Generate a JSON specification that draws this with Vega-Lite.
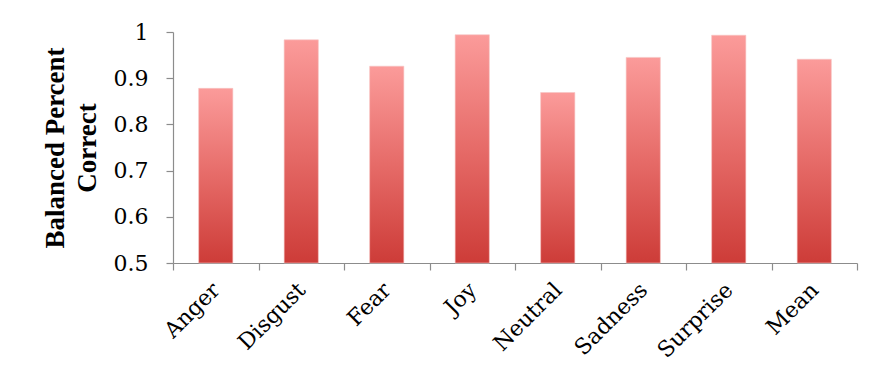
{
  "$schema": "https://vega.github.io/schema/vega-lite/v6.json",
  "autosize": {"type": "none"},
  "width": 684,
  "height": 231,
  "padding": {"left": 173, "top": 32, "right": 26, "bottom": 113},
  "background": "white",
  "data": {
    "values": [
      {"emotion": "Anger", "score": 0.878},
      {"emotion": "Disgust", "score": 0.983},
      {"emotion": "Fear", "score": 0.926},
      {"emotion": "Joy", "score": 0.994},
      {"emotion": "Neutral", "score": 0.869},
      {"emotion": "Sadness", "score": 0.945},
      {"emotion": "Surprise", "score": 0.993},
      {"emotion": "Mean", "score": 0.941}
    ]
  },
  "mark": {
    "type": "bar",
    "width": {"band": 0.4},
    "stroke": "#f6c4c3",
    "strokeWidth": 0.6,
    "color": {
      "gradient": "linear",
      "x1": 0, "y1": 0, "x2": 0, "y2": 1,
      "stops": [
        {"offset": 0, "color": "#fb9b9a"},
        {"offset": 0.5, "color": "#e66b68"},
        {"offset": 1, "color": "#cd3c38"}
      ]
    }
  },
  "encoding": {
    "x": {
      "field": "emotion",
      "type": "nominal",
      "sort": null,
      "scale": {"paddingInner": 0, "paddingOuter": 0},
      "axis": {
        "title": null,
        "tickBand": "extent",
        "labelAngle": -45,
        "labelAlign": "right",
        "labelBaseline": "middle",
        "labelFont": "DejaVu Serif",
        "labelFontSize": 22,
        "labelColor": "#000000",
        "labelPadding": 16,
        "tickSize": 7,
        "tickColor": "#8c8c8c",
        "domainColor": "#8c8c8c",
        "tickWidth": 1.2,
        "domainWidth": 1.2
      }
    },
    "y": {
      "field": "score",
      "type": "quantitative",
      "scale": {"domain": [0.5, 1], "nice": false, "zero": false},
      "axis": {
        "title": ["Balanced Percent", "Correct"],
        "titleFont": "Liberation Serif",
        "titleFontWeight": "bold",
        "titleFontSize": 27,
        "titleLineHeight": 32,
        "titleColor": "#000000",
        "titlePadding": 12,
        "values": [0.5, 0.6, 0.7, 0.8, 0.9, 1],
        "format": ".1~f",
        "grid": false,
        "labelFont": "DejaVu Serif",
        "labelFontSize": 22,
        "labelColor": "#000000",
        "labelPadding": 18,
        "tickSize": 7,
        "tickColor": "#8c8c8c",
        "domainColor": "#8c8c8c",
        "tickWidth": 1.2,
        "domainWidth": 1.2
      }
    },
    "y2": {"datum": 0.5}
  },
  "config": {"view": {"stroke": null}}
}
